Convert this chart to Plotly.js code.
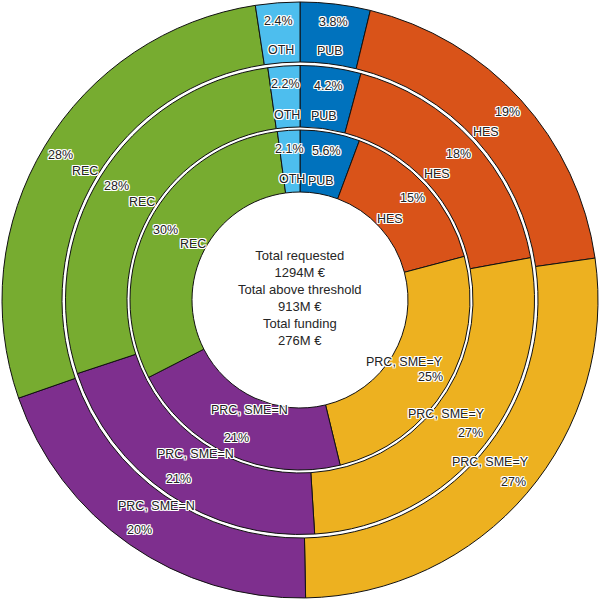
<!DOCTYPE html>
<html>
<head>
<meta charset="utf-8">
<script src="https://cdn.plot.ly/plotly-3.0.1.min.js"></script>
<style>html,body{margin:0;padding:0;background:#fff;}#chart{width:600px;height:600px;}</style>
</head>
<body>
<div id="chart"></div>
<script>
// Categories (clockwise from 12 o'clock)
const categories = ["PUB", "HES", "PRC, SME=Y", "PRC, SME=N", "REC", "OTH"];
const colors = ["#0072BD", "#D95319", "#EDB120", "#7E2F8E", "#77AC30", "#4DBEEE"];
// Shares in percent
const innerValues  = [5.6, 15, 25, 21, 30, 2.1];   // total funding
const middleValues = [4.2, 18, 27, 21, 28, 2.2];   // total above threshold
const outerValues  = [3.8, 19, 27, 20, 28, 2.4];   // total requested
const centerLines = ["Total requested", "1294M €", "Total above threshold", "913M €", "Total funding", "276M €"];

const W = 600, H = 600;
// ring geometry (outer radius px, inner radius px)
const rings = [
  {values: innerValues,  ro: 170,   ri: 108},
  {values: middleValues, ro: 234.5, ri: 173},
  {values: outerValues,  ro: 298,   ri: 238}
];

const traces = rings.map(rg => {
  const f = rg.ro / W;
  return {
    type: "pie",
    values: rg.values,
    labels: categories,
    sort: false,
    direction: "clockwise",
    rotation: 0,
    hole: rg.ri / rg.ro,
    domain: {x: [0.5 - f, 0.5 + f], y: [0.5 - f, 0.5 + f]},
    marker: {colors: colors, line: {color: "#111", width: 1}},
    textinfo: "none",
    hoverinfo: "none",
    showlegend: false
  };
});

const halo = "1px 1px 0px #fff, -1px -1px 0px #fff, 1px -1px 0px #fff, -1px 1px 0px #fff, 0px 1px 0px #fff, 0px -1px 0px #fff, 1px 0px 0px #fff, -1px 0px 0px #fff";
const annotations = [];
rings.forEach(rg => {
  const total = rg.values.reduce((a, b) => a + b, 0);
  let cum = 0;
  const w = rg.ro - rg.ri;
  rg.values.forEach((v, i) => {
    const th = (cum + v / 2) / total * 2 * Math.PI;
    cum += v;
    const rl = rg.ri + 0.21 * w;
    const rp = rg.ri + 0.70 * w;
    const pct = (+v.toPrecision(2)).toString() + "%";
    [[rl, categories[i]], [rp, pct]].forEach(([r, t]) => {
      annotations.push({
        xref: "paper", yref: "paper",
        x: 0.5 + r * Math.sin(th) / W,
        y: 0.5 + r * Math.cos(th) / H,
        text: t, showarrow: false,
        xanchor: "center", yanchor: "middle",
        font: {family: "Liberation Sans, Arial, sans-serif", size: 12.5, color: "#222", shadow: halo}
      });
    });
  });
});
annotations.push({
  xref: "paper", yref: "paper", x: 0.5, y: 0.503,
  text: centerLines.join("<br>"), showarrow: false,
  xanchor: "center", yanchor: "middle",
  font: {family: "Liberation Sans, Arial, sans-serif", size: 13, color: "#262626"}
});

const layout = {
  width: W, height: H,
  margin: {l: 0, r: 0, t: 0, b: 0},
  paper_bgcolor: "#fff",
  showlegend: false,
  annotations: annotations
};
Plotly.newPlot("chart", traces, layout, {staticPlot: true, displayModeBar: false});
</script>
</body>
</html>
